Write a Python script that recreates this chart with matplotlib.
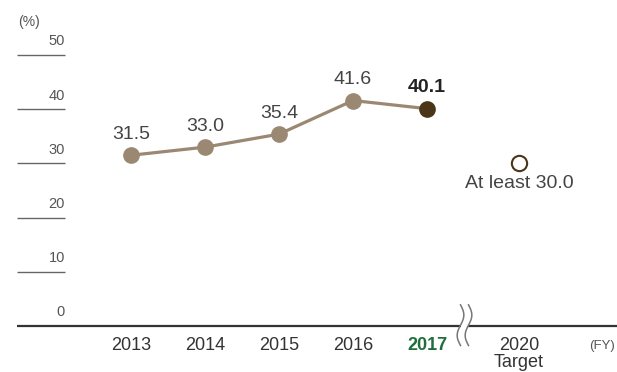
import numpy as np
import matplotlib
matplotlib.use('Agg')
import matplotlib.pyplot as plt

plt.rcParams['font.family'] = ['Liberation Sans', 'DejaVu Sans']

# data
years = ['2013', '2014', '2015', '2016', '2017']
values = [31.5, 33.0, 35.4, 41.6, 40.1]
target_label = '2020'
target_value = 30.0
yticks = [0, 10, 20, 30, 40, 50]

LINE_C = '#9b8873'
DARK_C = '#4a3519'
GREEN = '#1f6e3b'


def px(p):
    """pixel column -> data x."""
    return (p - 131) / 74


fig = plt.figure(figsize=(6.17, 3.72), dpi=100)
ax = fig.add_axes([0, 0, 1, 1])
ax.set_xlim(px(0), px(617))
ax.set_ylim(-46 / 5.42, 326 / 5.42)
ax.axis('off')

xs = np.arange(len(years))
x_target = px(519)

# gridline stubs + labels on the left
for t in yticks[1:]:
    ax.plot([px(17), px(65)], [t, t], color='#666666', lw=1.0,
            solid_capstyle='butt')
for t in yticks:
    ax.text(px(65), t + 1.2, str(t), ha='right', va='bottom',
            fontsize=10.5, color='#555555')
ax.text(px(18), 56.0, '(%)', ha='left', va='center',
        fontsize=10, color='#555555')

# baseline, broken at the axis break
ax.plot([px(17), px(461)], [0, 0], color='#333333', lw=1.6,
        solid_capstyle='butt')
ax.plot([px(468), px(617)], [0, 0], color='#333333', lw=1.6,
        solid_capstyle='butt')

# axis break marks
yy = np.linspace(-3.6, 3.9, 60)
for p in (460.5, 468.5):
    xx = px(p) - 0.045 * np.sin((yy + 3.6) / 7.5 * 2 * np.pi)
    ax.plot(xx, yy, color='#777777', lw=1.1)

# series
ax.plot(xs, values, color=LINE_C, lw=2.3, zorder=2)
ax.plot(xs[:-1], values[:-1], 'o', color=LINE_C, ms=11, zorder=3)
ax.plot(xs[-1], values[-1], 'o', color=DARK_C, ms=11, zorder=3)
ax.plot(x_target, target_value, 'o', mfc='white', mec=DARK_C, mew=1.5,
        ms=11, zorder=3)

for x, v in zip(xs[:-1], values[:-1]):
    ax.text(x, v + 2.3, '{:.1f}'.format(v), ha='center', va='bottom',
            fontsize=14, color='#444444')
ax.text(xs[-1], values[-1] + 2.3, '{:.1f}'.format(values[-1]),
        ha='center', va='bottom', fontsize=14, color='#222222',
        fontweight='bold')
ax.text(x_target, target_value - 2.2, 'At least {:.1f}'.format(target_value),
        ha='center', va='top', fontsize=14, color='#444444')

# x labels
for x, y in zip(xs[:-1], years[:-1]):
    ax.text(x, -3.6, y, ha='center', va='center', fontsize=13,
            color='#333333')
ax.text(xs[-1], -3.6, years[-1], ha='center', va='center', fontsize=13,
        color=GREEN, fontweight='bold')
ax.text(x_target, -3.6, target_label, ha='center', va='center',
        fontsize=13, color='#333333')
ax.text(x_target, -6.8, 'Target', ha='center', va='center',
        fontsize=13, color='#333333')
ax.text(px(615), -3.6, '(FY)', ha='right', va='center',
        fontsize=9.5, color='#555555')

fig.savefig('out.png', dpi=100)
